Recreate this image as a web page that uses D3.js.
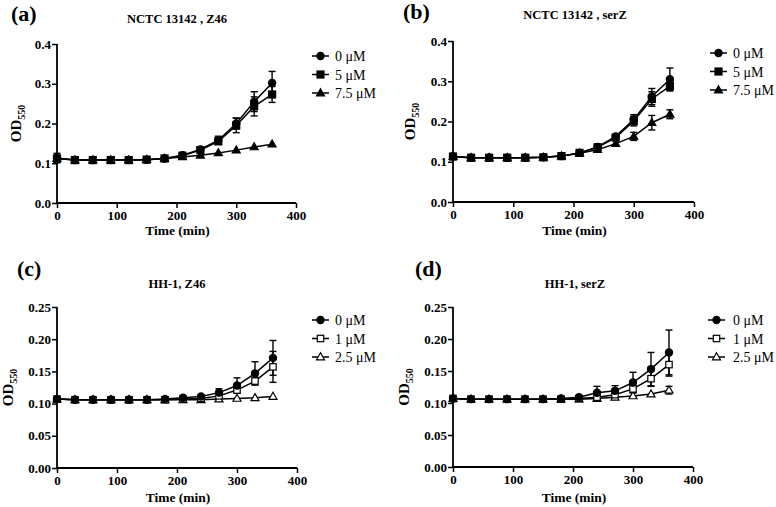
<!DOCTYPE html>
<html>
<head>
<meta charset="utf-8">
<script src="https://cdn.jsdelivr.net/npm/d3@7"></script>
<style>
body { margin: 0; background: #fff; }
svg { display: block; }
svg text { font-family: "Liberation Serif", "Times New Roman", Tinos, serif !important; fill: #000; }
</style>
</head>
<body>
<svg id="chart" width="776" height="507"></svg>
<script>
// ---- Data ----
const times = [0, 30, 60, 90, 120, 150, 180, 210, 240, 270, 300, 330, 360];
const xTicks = [0, 100, 200, 300, 400];
const yTicksTop = [0.0, 0.1, 0.2, 0.3, 0.4];
const yTicksBottom = [0.00, 0.05, 0.10, 0.15, 0.20, 0.25];

const panelLetters = ["(a)", "(b)", "(c)", "(d)"];
const panelTitles = ["NCTC 13142 , Z46", "NCTC 13142 , serZ", "HH-1, Z46", "HH-1, serZ"];
const legendTop = ["0 μM", "5 μM", "7.5 μM"];
const legendBottom = ["0 μM", "1 μM", "2.5 μM"];

// Panel (a)
const a0 = [0.113, 0.108, 0.108, 0.108, 0.108, 0.109, 0.112, 0.120, 0.135, 0.158, 0.200, 0.255, 0.302];
const a0err = [0.012, 0.002, 0.002, 0.002, 0.002, 0.002, 0.002, 0.003, 0.006, 0.010, 0.014, 0.025, 0.029];
const a5 = [0.112, 0.108, 0.108, 0.108, 0.108, 0.109, 0.112, 0.119, 0.133, 0.155, 0.195, 0.243, 0.273];
const a5err = [0.004, 0.002, 0.002, 0.002, 0.002, 0.002, 0.002, 0.003, 0.005, 0.008, 0.018, 0.024, 0.020];
const a75 = [0.112, 0.108, 0.108, 0.108, 0.108, 0.109, 0.112, 0.116, 0.120, 0.126, 0.133, 0.141, 0.148];
const a75err = [0.003, 0.002, 0.002, 0.002, 0.002, 0.002, 0.002, 0.002, 0.002, 0.002, 0.002, 0.002, 0.002];

// Panel (b)
const b0 = [0.113, 0.110, 0.110, 0.110, 0.110, 0.111, 0.114, 0.122, 0.137, 0.163, 0.205, 0.262, 0.305];
const b0err = [0.004, 0.002, 0.002, 0.002, 0.002, 0.002, 0.002, 0.003, 0.005, 0.008, 0.012, 0.020, 0.028];
const b5 = [0.113, 0.110, 0.110, 0.110, 0.110, 0.111, 0.114, 0.122, 0.136, 0.160, 0.201, 0.256, 0.288];
const b5err = [0.004, 0.002, 0.002, 0.002, 0.002, 0.002, 0.002, 0.003, 0.005, 0.008, 0.012, 0.018, 0.012];
const b75 = [0.113, 0.110, 0.110, 0.110, 0.110, 0.111, 0.114, 0.121, 0.130, 0.145, 0.163, 0.197, 0.218];
const b75err = [0.003, 0.002, 0.002, 0.002, 0.002, 0.002, 0.002, 0.002, 0.003, 0.005, 0.010, 0.018, 0.011];

// Panel (c)
const c0 = [0.107, 0.106, 0.106, 0.106, 0.106, 0.106, 0.107, 0.109, 0.111, 0.117, 0.128, 0.147, 0.171];
const c0err = [0.002, 0.001, 0.001, 0.001, 0.001, 0.001, 0.001, 0.002, 0.003, 0.006, 0.012, 0.018, 0.027];
const c1 = [0.107, 0.106, 0.106, 0.106, 0.106, 0.106, 0.106, 0.107, 0.108, 0.112, 0.121, 0.135, 0.157];
const c1err = [0.002, 0.001, 0.001, 0.001, 0.001, 0.001, 0.001, 0.001, 0.002, 0.003, 0.005, 0.006, 0.024];
const c25 = [0.107, 0.106, 0.106, 0.106, 0.106, 0.106, 0.106, 0.106, 0.106, 0.107, 0.108, 0.109, 0.111];
const c25err = [0.001, 0.001, 0.001, 0.001, 0.001, 0.001, 0.001, 0.001, 0.001, 0.001, 0.001, 0.001, 0.002];

// Panel (d)
const d0 = [0.107, 0.106, 0.106, 0.106, 0.106, 0.106, 0.107, 0.109, 0.116, 0.119, 0.132, 0.153, 0.179];
const d0err = [0.002, 0.001, 0.001, 0.001, 0.001, 0.001, 0.001, 0.002, 0.010, 0.008, 0.016, 0.026, 0.035];
const d1 = [0.107, 0.106, 0.106, 0.106, 0.106, 0.106, 0.106, 0.107, 0.109, 0.113, 0.122, 0.138, 0.160];
const d1err = [0.002, 0.001, 0.001, 0.001, 0.001, 0.001, 0.001, 0.001, 0.002, 0.004, 0.006, 0.012, 0.018];
const d25 = [0.107, 0.106, 0.106, 0.106, 0.106, 0.106, 0.106, 0.106, 0.107, 0.109, 0.111, 0.114, 0.120];
const d25err = [0.001, 0.001, 0.001, 0.001, 0.001, 0.001, 0.001, 0.001, 0.001, 0.002, 0.002, 0.003, 0.006];

// ---- Drawing ----
const svg = d3.select("#chart");

const panels = [
  { letter: panelLetters[0], title: panelTitles[0], series: [[a0, a0err], [a5, a5err], [a75, a75err]],
    markers: ["circle", "square", "triangle"], filled: [true, true, true], legend: legendTop,
    yTicks: yTicksTop, yMax: 0.4, fmt: ".1f",
    x0: 57, x1: 296, y0: 203, y1: 44,
    letterPos: [11, 21], titlePos: [177, 23], xLabelY: 235, yLabelX: 21,
    legX: 312, legY: 56, legTextX: 335 },
  { letter: panelLetters[1], title: panelTitles[1], series: [[b0, b0err], [b5, b5err], [b75, b75err]],
    markers: ["circle", "square", "triangle"], filled: [true, true, true], legend: legendTop,
    yTicks: yTicksTop, yMax: 0.4, fmt: ".1f",
    x0: 453, x1: 694, y0: 202, y1: 41,
    letterPos: [403, 19], titlePos: [575, 19], xLabelY: 235, yLabelX: 415,
    legX: 710, legY: 53, legTextX: 733 },
  { letter: panelLetters[2], title: panelTitles[2], series: [[c0, c0err], [c1, c1err], [c25, c25err]],
    markers: ["circle", "square", "triangle"], filled: [true, false, false], legend: legendBottom,
    yTicks: yTicksBottom, yMax: 0.25, fmt: ".2f",
    x0: 57, x1: 297, y0: 468, y1: 307,
    letterPos: [17, 276], titlePos: [177, 288], xLabelY: 502, yLabelX: 13,
    legX: 312, legY: 320, legTextX: 335 },
  { letter: panelLetters[3], title: panelTitles[3], series: [[d0, d0err], [d1, d1err], [d25, d25err]],
    markers: ["circle", "square", "triangle"], filled: [true, false, false], legend: legendBottom,
    yTicks: yTicksBottom, yMax: 0.25, fmt: ".2f",
    x0: 453, x1: 693, y0: 467, y1: 307,
    letterPos: [415, 276], titlePos: [575, 288], xLabelY: 502, yLabelX: 409,
    legX: 708, legY: 320, legTextX: 733 }
];

function drawMarker(g, type, filled, x, y) {
  const fill = filled ? "#000" : "#fff";
  if (type === "circle") {
    g.append("circle").attr("cx", x).attr("cy", y).attr("r", 3.6)
      .attr("fill", fill).attr("stroke", "#000").attr("stroke-width", 1.2);
  } else if (type === "square") {
    const s = filled ? 7 : 6.4;
    g.append("rect").attr("x", x - s / 2).attr("y", y - s / 2).attr("width", s).attr("height", s)
      .attr("fill", fill).attr("stroke", "#000").attr("stroke-width", 1.2);
  } else {
    const h = 7, w = 8;
    g.append("path")
      .attr("d", `M${x},${y - h * 0.6}L${x + w / 2},${y + h * 0.4}L${x - w / 2},${y + h * 0.4}Z`)
      .attr("fill", fill).attr("stroke", "#000").attr("stroke-width", 1.2);
  }
}

panels.forEach(p => {
  const g = svg.append("g");
  const x = d3.scaleLinear().domain([0, 400]).range([p.x0, p.x1]);
  const y = d3.scaleLinear().domain([0, p.yMax]).range([p.y0, p.y1]);

  // axes
  const xAxis = d3.axisBottom(x).tickValues(xTicks).tickSize(5).tickPadding(3).tickFormat(d3.format("d"));
  const yAxis = d3.axisLeft(y).tickValues(p.yTicks).tickSize(5).tickPadding(1).tickFormat(d3.format(p.fmt));
  const gx = g.append("g").attr("transform", `translate(0,${p.y0})`).call(xAxis);
  const gy = g.append("g").attr("transform", `translate(${p.x0},0)`).call(yAxis);
  [gx, gy].forEach(ax => {
    ax.attr("font-family", null);
    ax.select(".domain").attr("stroke", "#000").attr("stroke-width", 1.8);
    ax.selectAll(".tick line").attr("stroke", "#000").attr("stroke-width", 1.5);
    ax.selectAll(".tick text").attr("font-weight", "bold")
      .attr("font-size", 13).attr("fill", "#000");
  });
  gy.select(".domain").attr("d", `M0,${p.y0}V${p.y1}`);
  gx.select(".domain").attr("d", `M${p.x0},0H${p.x1}`);

  // series
  const line = d3.line().x((d, i) => x(times[i])).y(d => y(d));
  p.series.forEach((s, k) => {
    const [vals, errs] = s;
    g.append("path").datum(vals).attr("d", line).attr("fill", "none")
      .attr("stroke", "#000").attr("stroke-width", 1.5);
    vals.forEach((v, i) => {
      const e = errs[i];
      const cx = x(times[i]);
      const yt = y(v + e), yb = y(v - e);
      if (yb - yt > 7) {
        g.append("line").attr("x1", cx).attr("x2", cx).attr("y1", yt).attr("y2", yb)
          .attr("stroke", "#000").attr("stroke-width", 1.4);
        [yt, yb].forEach(yy => g.append("line").attr("x1", cx - 3.5).attr("x2", cx + 3.5)
          .attr("y1", yy).attr("y2", yy).attr("stroke", "#000").attr("stroke-width", 1.4));
      }
    });
  });
  // markers on top, drawn last series first so first series is on top
  for (let k = p.series.length - 1; k >= 0; k--) {
    const vals = p.series[k][0];
    vals.forEach((v, i) => drawMarker(g, p.markers[k], p.filled[k], x(times[i]), y(v)));
  }

  // letter and title
  g.append("text").attr("x", p.letterPos[0]).attr("y", p.letterPos[1])
    .attr("font-size", 22).attr("font-weight", "bold").text(p.letter);
  g.append("text").attr("x", p.titlePos[0]).attr("y", p.titlePos[1]).attr("text-anchor", "middle")
    .attr("font-size", 12.5).attr("font-weight", "bold").text(p.title);

  // x label
  g.append("text").attr("x", (p.x0 + p.x1) / 2 + 1).attr("y", p.xLabelY).attr("text-anchor", "middle")
    .attr("font-size", 13.5).attr("font-weight", "bold").text("Time (min)");

  // y label
  const yl = g.append("text")
    .attr("transform", `translate(${p.yLabelX},${(p.y0 + p.y1) / 2}) rotate(-90)`)
    .attr("text-anchor", "middle").attr("font-weight", "bold").attr("font-size", 15);
  yl.append("tspan").text("OD");
  yl.append("tspan").attr("font-size", 10).attr("dy", 4).text("550");

  // legend
  p.legend.forEach((lab, k) => {
    const ly = p.legY + k * 18.5;
    g.append("line").attr("x1", p.legX).attr("x2", p.legX + 17).attr("y1", ly).attr("y2", ly)
      .attr("stroke", "#000").attr("stroke-width", 1.5);
    drawMarker(g, p.markers[k], p.filled[k], p.legX + 8.5, ly);
    g.append("text").attr("x", p.legTextX).attr("y", ly + 5).attr("font-size", 14).text(lab);
  });
});
</script>
</body>
</html>
